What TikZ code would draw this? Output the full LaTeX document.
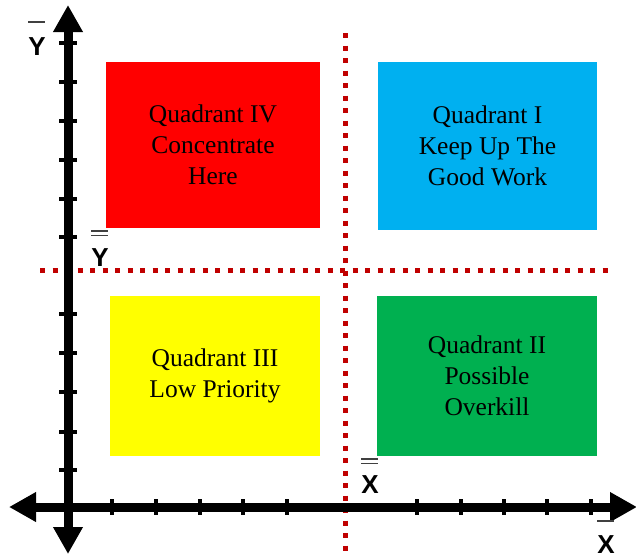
\documentclass[tikz,border=0pt]{standalone}
\usepackage{fontspec}
\setmainfont{Liberation Serif}
\newfontfamily\lblfont{Liberation Sans}
\usetikzlibrary{arrows.meta}
\definecolor{qred}{HTML}{FF0000}
\definecolor{qblue}{HTML}{00B0F0}
\definecolor{qyellow}{HTML}{FFFF00}
\definecolor{qgreen}{HTML}{00B050}
\definecolor{dotred}{HTML}{C00000}
\tikzset{
  quad/.style={draw=none, inner sep=0pt, align=center, text=black,
    font=\fontsize{25.5}{31}\selectfont},
  axis/.style={line width=9pt, black, {Triangle[length=27pt,width=28pt]}-{Triangle[length=27pt,width=28pt]}},
  htick/.style={line width=4pt, black},
  dotline/.style={dotred, line width=5pt, dash pattern=on 5pt off 7.5pt},
  lbl/.style={inner sep=0pt, font=\lblfont\bfseries\fontsize{26}{26}\selectfont},
  barline/.style={line width=1.8pt, black!75}
}
\begin{document}
\begin{tikzpicture}[x=1pt,y=-1pt]
\useasboundingbox (0,0) rectangle (636,558);
% quadrants
\node[quad, fill=qred, minimum width=214pt, minimum height=166pt] (q4) at (213,145) {Quadrant IV\\Concentrate\\Here};
\node[quad, fill=qblue, minimum width=219pt, minimum height=168pt] (q1) at (487.5,146) {Quadrant I\\Keep Up The\\Good Work};
\node[quad, fill=qyellow, minimum width=210pt, minimum height=160pt] (q3) at (215,376) {Quadrant III\\Low Priority};
\node[quad, fill=qgreen, minimum width=220pt, minimum height=160pt] (q2) at (487,376) {Quadrant II\\Possible\\Overkill};
% dotted mean lines
\coordinate (vtop) at (345,33);
\coordinate (vbot) at (345,553);
\coordinate (hleft) at (40,270);
\coordinate (hright) at (612,270);
\draw[dotline] (vtop) -- (vbot);
\draw[dotline] (hleft) -- (hright);
% axes
\coordinate (ytip) at (68,5);
\coordinate (ybot) at (68,554);
\coordinate (xleft) at (9,507);
\coordinate (xright) at (637,507);
\draw[axis] (ybot) -- (ytip);
\draw[axis] (xleft) -- (xright);
% ticks on vertical axis
\foreach \y in {43,82,121,160,199,237,314,353,392,432,470}
  \draw[htick] (59,\y) -- (77,\y);
% ticks on horizontal axis
\foreach \x in {112,156,200,243,287,417,461,504,547,591}
  \draw[htick] (\x,499) -- (\x,515);
% labels
\node[lbl] (ybar) at (37,47) {Y};
\draw[barline] (28,22) -- (45,22);
\node[lbl] (ydbar) at (100,258) {Y};
\draw[barline] (91,231) -- (108,231);
\draw[barline] (91,235.5) -- (108,235.5);
\node[lbl] (xdbar) at (370,485) {X};
\draw[barline] (361,459) -- (378,459);
\draw[barline] (361,463.5) -- (378,463.5);
\node[lbl] (xbar) at (606,545) {X};
\draw[barline] (597,521) -- (614,521);
\end{tikzpicture}
\end{document}
